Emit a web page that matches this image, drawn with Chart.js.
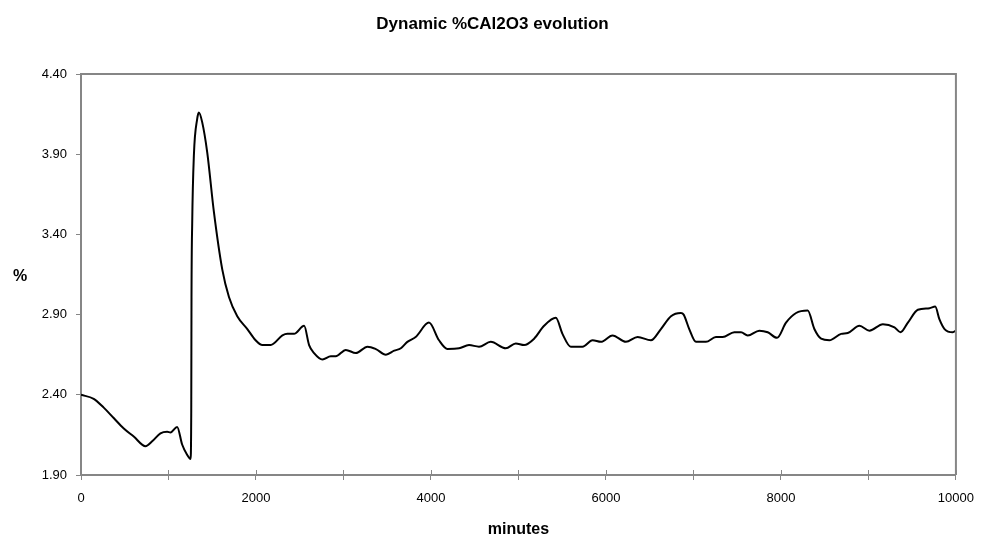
<!DOCTYPE html>
<html>
<head>
<meta charset="utf-8">
<script src="https://cdn.jsdelivr.net/npm/chart.js@4/dist/chart.umd.min.js"></script>
<style>
  html, body { margin: 0; padding: 0; background: #fff; }
  #wrap { width: 985px; height: 542px; }
</style>
</head>
<body>
<div id="wrap"><canvas id="c1"></canvas></div>
<script>
  // time in minutes and %CAl2O3 read along the run
  var minutes = [0, 145, 260, 374, 489, 603, 737, 813, 908, 985, 1023, 1099, 1156, 1214, 1252,
    1260, 1263, 1271, 1290, 1328, 1347, 1385, 1443, 1519, 1615, 1691, 1786, 1901, 1996, 2073,
    2168, 2302, 2359, 2435, 2550, 2607, 2664, 2760, 2855, 2912, 3027, 3141, 3275, 3370, 3485,
    3580, 3656, 3730, 3825, 3977, 4092, 4188, 4321, 4435, 4549, 4683, 4855, 4969, 5064, 5179,
    5293, 5427, 5503, 5598, 5732, 5847, 5942, 6075, 6228, 6362, 6514, 6628, 6743, 6857, 6888,
    6952, 7029, 7143, 7257, 7334, 7467, 7544, 7620, 7753, 7849, 7955, 8058, 8173, 8306, 8382,
    8459, 8554, 8688, 8764, 8897, 9012, 9165, 9298, 9366, 9451, 9565, 9698, 9763, 9812, 9870,
    9965, 10000]
  var al2o3 = [2.40, 2.375, 2.32, 2.255, 2.19, 2.14, 2.08, 2.11, 2.16, 2.17, 2.165, 2.20, 2.09, 2.025, 2.00,
    2.29, 3.01, 3.47, 3.89, 4.12, 4.16, 4.10, 3.91, 3.54, 3.18, 3.01, 2.89, 2.81, 2.74, 2.71,
    2.71, 2.77, 2.78, 2.78, 2.83, 2.71, 2.66, 2.62, 2.64, 2.64, 2.68, 2.66, 2.70, 2.685, 2.65,
    2.675, 2.69, 2.73, 2.76, 2.85, 2.74, 2.686, 2.69, 2.71, 2.70, 2.73, 2.69, 2.72, 2.71, 2.75,
    2.83, 2.88, 2.78, 2.70, 2.70, 2.74, 2.73, 2.77, 2.73, 2.76, 2.74, 2.81, 2.89, 2.91, 2.90,
    2.81, 2.73, 2.73, 2.76, 2.76, 2.79, 2.79, 2.77, 2.80, 2.79, 2.755, 2.85, 2.91, 2.925, 2.81,
    2.75, 2.74, 2.78, 2.785, 2.83, 2.80, 2.84, 2.82, 2.79, 2.85, 2.93, 2.94, 2.95, 2.87, 2.81,
    2.79, 2.80]

  var xTicks = [0, 1000, 2000, 3000, 4000, 5000, 6000, 7000, 8000, 9000, 10000]
  var yTicks = [1.90, 2.40, 2.90, 3.40, 3.90, 4.40]

  var axisGrey = '#868686'
  var font = 'Liberation Sans, Arial, sans-serif'

  var points = minutes.map(function(m, i) {
    return { x: m, y: al2o3[i] }
  })

  // chart title, plot frame, inner x ticks and the horizontal "%" label
  var framePlugin = {
    id: 'frame',
    afterDraw: function(chart) {
      var ctx = chart.ctx
      var a = chart.chartArea
      var xs = chart.scales.x
      ctx.save()
      ctx.strokeStyle = axisGrey
      ctx.lineWidth = 2
      ctx.beginPath()
      ctx.moveTo(a.left, a.top)
      ctx.lineTo(a.right, a.top)
      ctx.lineTo(a.right, a.bottom)
      ctx.stroke()
      ctx.lineWidth = 1
      xTicks.forEach(function(t) {
        var px = Math.round(xs.getPixelForValue(t)) + 0.5
        ctx.beginPath()
        ctx.moveTo(px, a.bottom)
        ctx.lineTo(px, a.bottom - 5)
        ctx.stroke()
      })
      ctx.fillStyle = '#000'
      ctx.textAlign = 'center'
      ctx.textBaseline = 'middle'
      ctx.font = 'bold 17px ' + font
      ctx.fillText('Dynamic %CAl2O3 evolution', chart.width / 2, 24)
      ctx.font = 'bold 16px ' + font
      ctx.fillText('%', 20, (a.top + a.bottom) / 2 + 2)
      ctx.restore()
    }
  }

  var ctx = document.getElementById('c1')
  var chart1 = new Chart(ctx, {
    type: 'line',
    data: {
      datasets: [{
        data: points,
        borderColor: '#000',
        borderWidth: 2,
        pointRadius: 0,
        cubicInterpolationMode: 'monotone',
        fill: false
      }]
    },
    plugins: [framePlugin],
    options: {
      responsive: true,
      maintainAspectRatio: false,
      animation: false,
      layout: { padding: { left: 0, right: 29, top: 74, bottom: 0 } },
      plugins: {
        legend: { display: false },
        tooltip: { enabled: false },
        title: { display: false }
      },
      scales: {
        x: {
          type: 'linear',
          min: 0,
          max: 10000,
          afterBuildTicks: function(scale) {
            scale.ticks = xTicks.map(function(v) { return { value: v } })
          },
          afterFit: function(scale) { scale.height = 67 },
          ticks: {
            color: '#000',
            font: { family: font, size: 13 },
            padding: 11,
            maxRotation: 0,
            autoSkip: false,
            callback: function(v) { return v % 2000 === 0 ? String(v) : '' }
          },
          grid: { drawOnChartArea: false, drawTicks: true, tickLength: 5, color: axisGrey },
          border: { display: true, color: axisGrey, width: 2 },
          title: {
            display: true,
            text: 'minutes',
            color: '#000',
            font: { family: font, size: 16, weight: 'bold' },
            padding: { top: 4, bottom: 3 }
          }
        },
        y: {
          min: 1.9,
          max: 4.4,
          afterBuildTicks: function(scale) {
            scale.ticks = yTicks.map(function(v) { return { value: v } })
          },
          afterFit: function(scale) { scale.width = 81 },
          ticks: {
            color: '#000',
            font: { family: font, size: 13 },
            padding: 9,
            callback: function(v) { return Number(v).toFixed(2) }
          },
          grid: { drawOnChartArea: false, drawTicks: true, tickLength: 5, color: axisGrey },
          border: { display: true, color: axisGrey, width: 2 }
        }
      }
    }
  })
</script>
</body>
</html>
